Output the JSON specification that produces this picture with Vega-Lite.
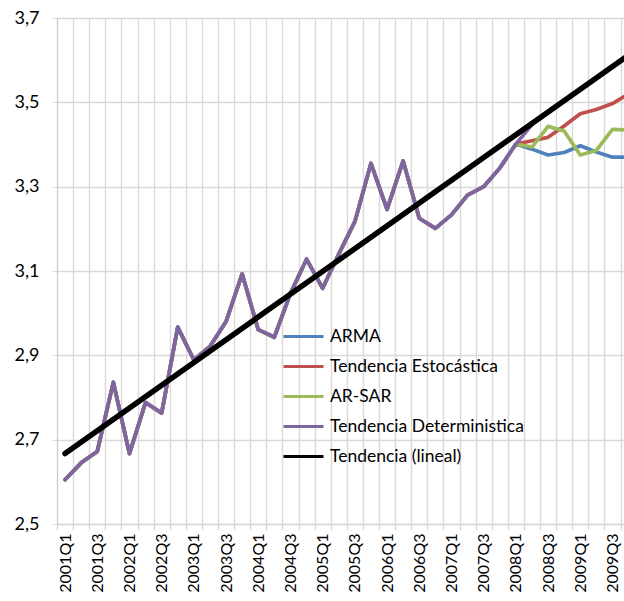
{
  "$schema": "https://vega.github.io/schema/vega-lite/v6.json",
  "width": 567,
  "height": 506,
  "autosize": {"type": "none"},
  "padding": {"left": 57, "top": 18, "right": 0, "bottom": 77},
  "background": "white",
  "config": {"view": {"stroke": null}, "font": "Lato"},
  "data": {"values": [
    {"q":"2001Q1","ARMA":2.605,"Tendencia Estocástica":2.605,"AR-SAR":2.605,"Tendencia Deterministica":2.605,"Tendencia (lineal)":2.667},
    {"q":"2001Q2","ARMA":2.645,"Tendencia Estocástica":2.645,"AR-SAR":2.645,"Tendencia Deterministica":2.645},
    {"q":"2001Q3","ARMA":2.672,"Tendencia Estocástica":2.672,"AR-SAR":2.672,"Tendencia Deterministica":2.672},
    {"q":"2001Q4","ARMA":2.836,"Tendencia Estocástica":2.836,"AR-SAR":2.836,"Tendencia Deterministica":2.836},
    {"q":"2002Q1","ARMA":2.667,"Tendencia Estocástica":2.667,"AR-SAR":2.667,"Tendencia Deterministica":2.667},
    {"q":"2002Q2","ARMA":2.788,"Tendencia Estocástica":2.788,"AR-SAR":2.788,"Tendencia Deterministica":2.788},
    {"q":"2002Q3","ARMA":2.763,"Tendencia Estocástica":2.763,"AR-SAR":2.763,"Tendencia Deterministica":2.763},
    {"q":"2002Q4","ARMA":2.967,"Tendencia Estocástica":2.967,"AR-SAR":2.967,"Tendencia Deterministica":2.967},
    {"q":"2003Q1","ARMA":2.889,"Tendencia Estocástica":2.889,"AR-SAR":2.889,"Tendencia Deterministica":2.889},
    {"q":"2003Q2","ARMA":2.921,"Tendencia Estocástica":2.921,"AR-SAR":2.921,"Tendencia Deterministica":2.921},
    {"q":"2003Q3","ARMA":2.980,"Tendencia Estocástica":2.980,"AR-SAR":2.980,"Tendencia Deterministica":2.980},
    {"q":"2003Q4","ARMA":3.093,"Tendencia Estocástica":3.093,"AR-SAR":3.093,"Tendencia Deterministica":3.093},
    {"q":"2004Q1","ARMA":2.961,"Tendencia Estocástica":2.961,"AR-SAR":2.961,"Tendencia Deterministica":2.961},
    {"q":"2004Q2","ARMA":2.943,"Tendencia Estocástica":2.943,"AR-SAR":2.943,"Tendencia Deterministica":2.943},
    {"q":"2004Q3","ARMA":3.047,"Tendencia Estocástica":3.047,"AR-SAR":3.047,"Tendencia Deterministica":3.047},
    {"q":"2004Q4","ARMA":3.128,"Tendencia Estocástica":3.128,"AR-SAR":3.128,"Tendencia Deterministica":3.128},
    {"q":"2005Q1","ARMA":3.059,"Tendencia Estocástica":3.059,"AR-SAR":3.059,"Tendencia Deterministica":3.059},
    {"q":"2005Q2","ARMA":3.140,"Tendencia Estocástica":3.140,"AR-SAR":3.140,"Tendencia Deterministica":3.140},
    {"q":"2005Q3","ARMA":3.217,"Tendencia Estocástica":3.217,"AR-SAR":3.217,"Tendencia Deterministica":3.217},
    {"q":"2005Q4","ARMA":3.355,"Tendencia Estocástica":3.355,"AR-SAR":3.355,"Tendencia Deterministica":3.355},
    {"q":"2006Q1","ARMA":3.246,"Tendencia Estocástica":3.246,"AR-SAR":3.246,"Tendencia Deterministica":3.246},
    {"q":"2006Q2","ARMA":3.361,"Tendencia Estocástica":3.361,"AR-SAR":3.361,"Tendencia Deterministica":3.361},
    {"q":"2006Q3","ARMA":3.225,"Tendencia Estocástica":3.225,"AR-SAR":3.225,"Tendencia Deterministica":3.225},
    {"q":"2006Q4","ARMA":3.201,"Tendencia Estocástica":3.201,"AR-SAR":3.201,"Tendencia Deterministica":3.201},
    {"q":"2007Q1","ARMA":3.233,"Tendencia Estocástica":3.233,"AR-SAR":3.233,"Tendencia Deterministica":3.233},
    {"q":"2007Q2","ARMA":3.280,"Tendencia Estocástica":3.280,"AR-SAR":3.280,"Tendencia Deterministica":3.280},
    {"q":"2007Q3","ARMA":3.300,"Tendencia Estocástica":3.300,"AR-SAR":3.300,"Tendencia Deterministica":3.300},
    {"q":"2007Q4","ARMA":3.344,"Tendencia Estocástica":3.344,"AR-SAR":3.344,"Tendencia Deterministica":3.344},
    {"q":"2008Q1","ARMA":3.401,"Tendencia Estocástica":3.401,"AR-SAR":3.401,"Tendencia Deterministica":3.401},
    {"q":"2008Q2","ARMA":3.389,"Tendencia Estocástica":3.409,"AR-SAR":3.394,"Tendencia Deterministica":3.447},
    {"q":"2008Q3","ARMA":3.375,"Tendencia Estocástica":3.417,"AR-SAR":3.443},
    {"q":"2008Q4","ARMA":3.381,"Tendencia Estocástica":3.444,"AR-SAR":3.432},
    {"q":"2009Q1","ARMA":3.397,"Tendencia Estocástica":3.473,"AR-SAR":3.375},
    {"q":"2009Q2","ARMA":3.382,"Tendencia Estocástica":3.483,"AR-SAR":3.386},
    {"q":"2009Q3","ARMA":3.370,"Tendencia Estocástica":3.497,"AR-SAR":3.436},
    {"q":"2009Q4","ARMA":3.370,"Tendencia Estocástica":3.520,"AR-SAR":3.434,"Tendencia (lineal)":3.612}
  ]},
  "transform": [
    {"fold": ["ARMA","Tendencia Estocástica","AR-SAR","Tendencia Deterministica","Tendencia (lineal)"], "as": ["serie","valor"]},
    {"filter": "isValid(datum.valor)"}
  ],
  "encoding": {
    "x": {
      "field": "q", "type": "ordinal", "bandPosition": 0.5,
      "scale": {"type": "band", "domain": ["2001Q1","2001Q2","2001Q3","2001Q4","2002Q1","2002Q2","2002Q3","2002Q4","2003Q1","2003Q2","2003Q3","2003Q4","2004Q1","2004Q2","2004Q3","2004Q4","2005Q1","2005Q2","2005Q3","2005Q4","2006Q1","2006Q2","2006Q3","2006Q4","2007Q1","2007Q2","2007Q3","2007Q4","2008Q1","2008Q2","2008Q3","2008Q4","2009Q1","2009Q2","2009Q3","2009Q4"], "range": [0, 579.6], "paddingInner": 0, "paddingOuter": 0},
      "axis": {"title": null, "tickBand": "extent", "grid": true, "gridColor": "#d9d9d9", "gridWidth": 1.4, "domainColor": "#d9d9d9", "domainWidth": 1.5, "tickColor": "#d9d9d9", "tickSize": 6, "tickWidth": 1.3, "labelAngle": -90, "labelAlign": "right", "labelBaseline": "middle", "labelFontSize": 16, "labelColor": "black", "labelPadding": 3, "labelOverlap": false, "labelExpr": "test(regexp('Q[13]$'), datum.label) ? datum.label : ''"}
    },
    "y": {
      "field": "valor", "type": "quantitative",
      "scale": {"domain": [2.5, 3.7], "nice": false, "zero": false},
      "axis": {"title": null, "values": [2.5, 2.7, 2.9, 3.1, 3.3, 3.5, 3.7], "labelExpr": "replace(format(datum.value, '.1f'), '.', ',')", "grid": true, "gridColor": "#d9d9d9", "gridWidth": 1.4, "domainColor": "#bfbfbf", "domainDash": [1, 1], "tickColor": "#bfbfbf", "tickDash": [1, 1], "tickSize": 6, "labelPadding": 12, "labelFontSize": 18, "labelColor": "black"}
    },
    "color": {
      "field": "serie", "type": "nominal",
      "scale": {"domain": ["ARMA","Tendencia Estocástica","AR-SAR","Tendencia Deterministica","Tendencia (lineal)"], "range": ["#4F81BD","#C0504D","#9BBB59","#8064A2","#000000"]},
      "legend": {"orient": "none", "legendX": 225, "legendY": 297, "title": null, "symbolType": "stroke", "symbolSize": 1600, "symbolStrokeWidth": 3, "labelFontSize": 17.5, "labelColor": "black", "labelOffset": 5, "labelLimit": 0, "rowPadding": -9, "padding": 0}
    }
  },
  "layer": [
    {"transform": [{"filter": "datum.serie === 'ARMA'"}], "mark": {"type": "line", "strokeWidth": 3.7, "strokeJoin": "round", "strokeCap": "round"}},
    {"transform": [{"filter": "datum.serie === 'Tendencia Estocástica'"}], "mark": {"type": "line", "strokeWidth": 3.7, "strokeJoin": "round", "strokeCap": "round"}},
    {"transform": [{"filter": "datum.serie === 'AR-SAR'"}], "mark": {"type": "line", "strokeWidth": 3.7, "strokeJoin": "round", "strokeCap": "round"}},
    {"transform": [{"filter": "datum.serie === 'Tendencia Deterministica'"}], "mark": {"type": "line", "strokeWidth": 3.7, "strokeJoin": "round", "strokeCap": "round"}},
    {"transform": [{"filter": "datum.serie === 'Tendencia (lineal)'"}], "mark": {"type": "line", "strokeWidth": 5.5, "strokeJoin": "round", "strokeCap": "round"}}
  ]
}
